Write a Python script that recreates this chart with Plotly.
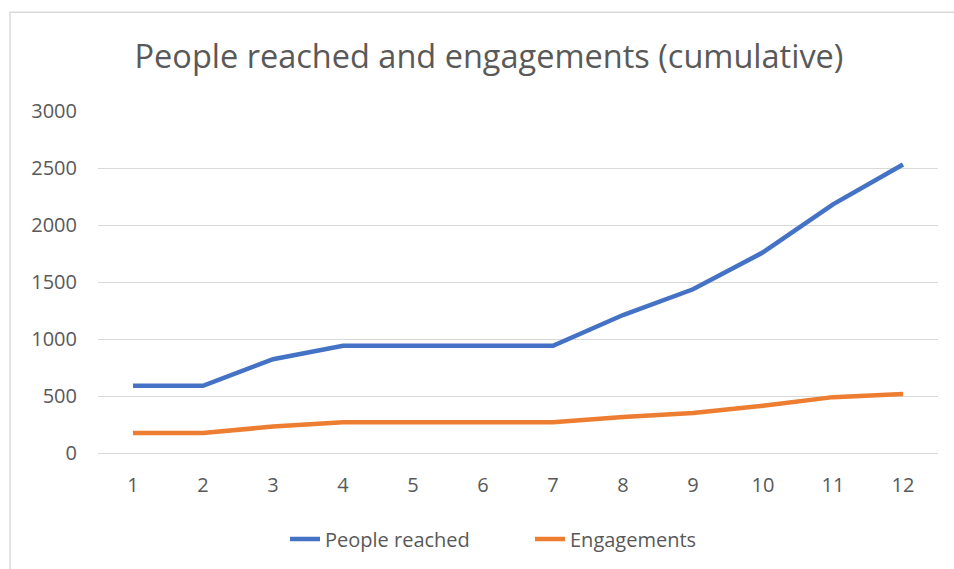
import plotly.graph_objects as go

categories = [1, 2, 3, 4, 5, 6, 7, 8, 9, 10, 11, 12]
people_reached = [590, 590, 823, 940, 940, 940, 940, 1210, 1436, 1760, 2181, 2531]
engagements = [175, 175, 232, 269, 269, 269, 269, 315, 350, 414, 490, 517]
y_ticks = [0, 500, 1000, 1500, 2000, 2500, 3000]

W, H = 954, 569
L, R, T, B = 98, 16, 111, 115
pw, ph = W - L - R, H - T - B

def px_x(x):
    return (x - L) / pw

def px_y(y):
    return (H - B - y) / ph

font_family = "Open Sans, Lato, sans-serif"
text_color = "#595959"

fig = go.Figure()
fig.add_trace(go.Scatter(x=categories, y=people_reached, mode="lines", name="People reached",
                         line=dict(color="#4472C4", width=4.5)))
fig.add_trace(go.Scatter(x=categories, y=engagements, mode="lines", name="Engagements",
                         line=dict(color="#ED7D31", width=4.5)))

fig.update_layout(
    width=W, height=H,
    margin=dict(l=L, r=R, t=T, b=B),
    paper_bgcolor="white", plot_bgcolor="white",
    font=dict(family=font_family, color=text_color, size=20),
    title=dict(text="People reached and engagements (cumulative)",
               x=489 / W, xref="container", xanchor="center",
               y=1 - 57 / H, yref="container", yanchor="middle",
               font=dict(size=32.5, color=text_color, family=font_family)),
    xaxis=dict(range=[0.5, 12.5], tickmode="array", tickvals=categories,
               ticktext=[str(c) for c in categories], showgrid=False,
               showline=False, zeroline=False, ticks="", ticklen=0,
               ticklabelstandoff=18,
               tickfont=dict(size=20, color=text_color)),
    yaxis=dict(range=[0, 3000], tickmode="array", tickvals=y_ticks,
               ticktext=[str(v) for v in y_ticks], showgrid=True,
               gridcolor="#d9d9d9", gridwidth=1.2, zeroline=True,
               zerolinecolor="#d9d9d9", zerolinewidth=1.2, showline=False,
               ticks="", ticklabelstandoff=20,
               tickfont=dict(size=20, color=text_color)),
    legend=dict(orientation="h", x=px_x(530), xanchor="center",
                y=px_y(539), yanchor="middle",
                font=dict(size=20, color=text_color),
                entrywidth=200, entrywidthmode="pixels",
                bgcolor="rgba(0,0,0,0)"),
    showlegend=True,
)

fig.add_shape(type="rect", xref="paper", yref="paper",
              x0=px_x(10), x1=px_x(975), y0=px_y(590), y1=px_y(12),
              line=dict(color="#d9d9d9", width=1.5), fillcolor="rgba(0,0,0,0)",
              layer="below")

fig.write_html("out.html")
